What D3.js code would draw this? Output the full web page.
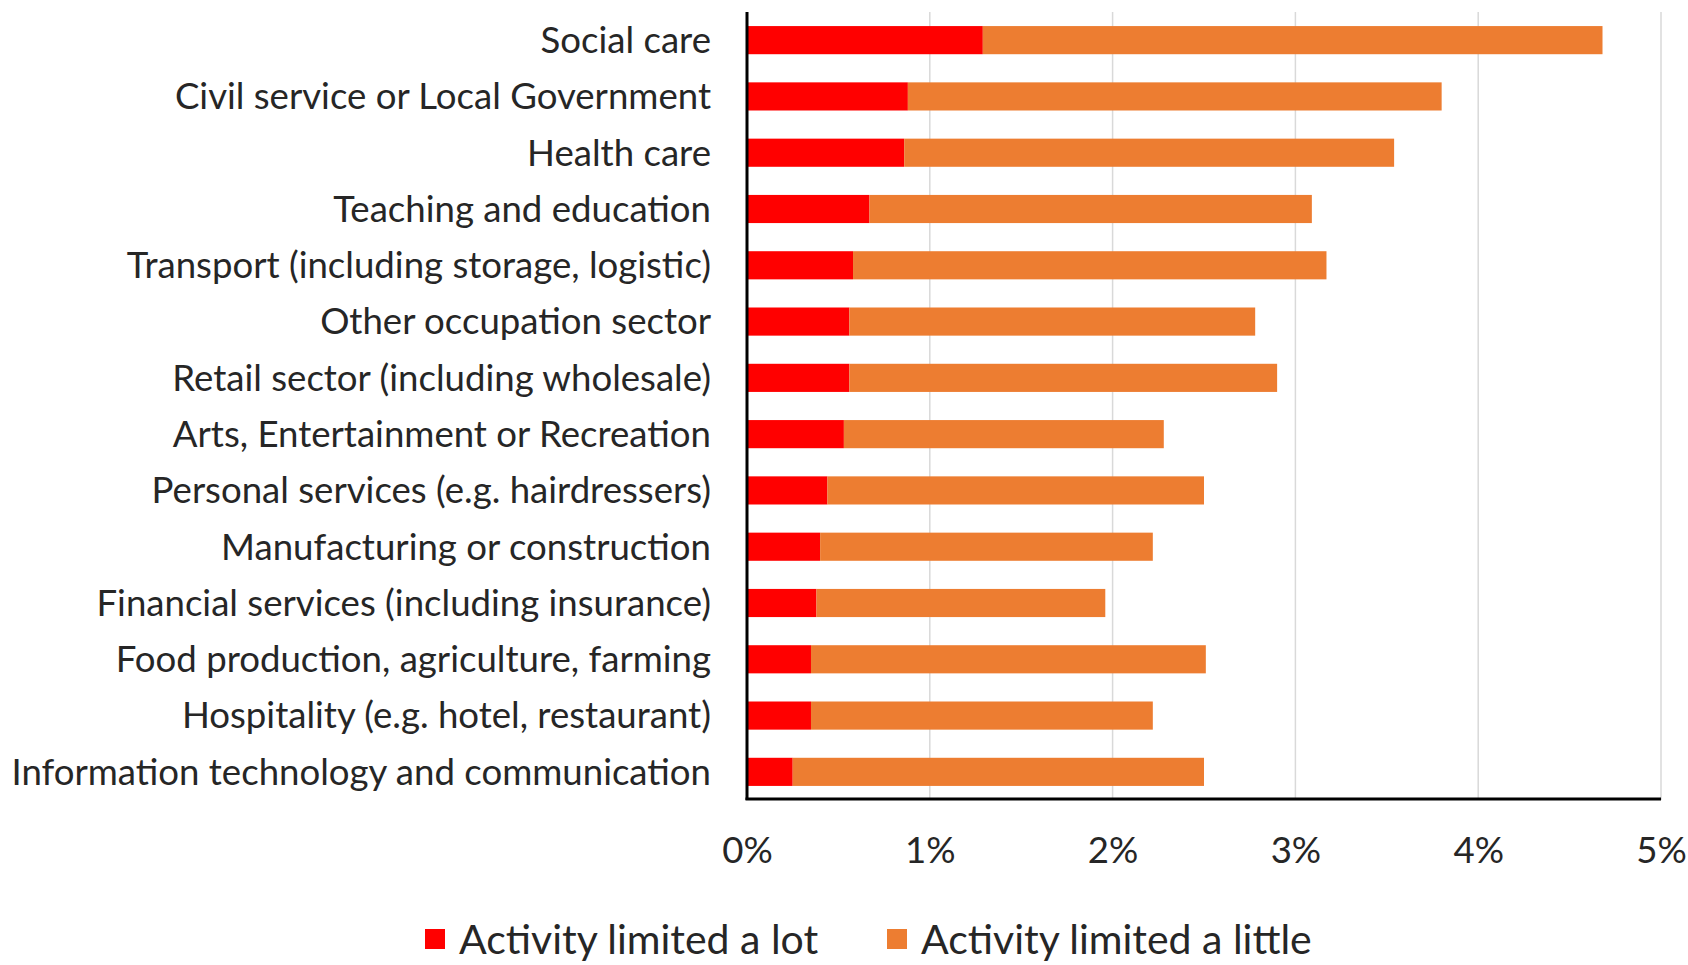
<!DOCTYPE html>
<html>
<head>
<meta charset="utf-8">
<script src="https://cdn.jsdelivr.net/npm/d3@7"></script>
<style>
  body { margin: 0; background: #fff; }
  svg text { font-family: Lato, "Open Sans", sans-serif; fill: #262626; }
</style>
</head>
<body>
<div id="plot"></div>
<script>
// values (percent)
var categories = [
  "Social care",
  "Civil service or Local Government",
  "Health care",
  "Teaching and education",
  "Transport (including storage, logistic)",
  "Other occupation sector",
  "Retail sector (including wholesale)",
  "Arts, Entertainment or Recreation",
  "Personal services (e.g. hairdressers)",
  "Manufacturing or construction",
  "Financial services (including insurance)",
  "Food production, agriculture, farming",
  "Hospitality (e.g. hotel, restaurant)",
  "Information technology and communication"
];
var limitedLot =    [1.29, 0.88, 0.86, 0.67, 0.58, 0.56, 0.56, 0.53, 0.44, 0.40, 0.38, 0.35, 0.35, 0.25];
var limitedLittle = [3.39, 2.92, 2.68, 2.42, 2.59, 2.22, 2.34, 1.75, 2.06, 1.82, 1.58, 2.16, 1.87, 2.25];
var seriesNames = ["Activity limited a lot", "Activity limited a little"];
var tickValues = [0, 1, 2, 3, 4, 5];

var width = 1688;
var height = 965;
var colors = ['#ff0000', '#ed7d31'];

var svg = d3.select("div#plot")
  .append("svg")
  .attr("width", width)
  .attr("height", height);

var x = d3.scaleLinear().domain([0, 5]).range([747, 1661]);
var y = d3.scaleBand().domain(categories).range([12, 800]).paddingInner(0.5).paddingOuter(0.25);

var rows = categories.map(function(c, i){
  return {cat: c, lot: limitedLot[i], little: limitedLittle[i]};
});
var stacked = d3.stack().keys(["lot", "little"])(rows);

// gridlines
svg.append("g")
  .selectAll("line")
  .data(tickValues.slice(1))
  .enter()
  .append("line")
  .attr("x1", d => x(d)).attr("x2", d => x(d))
  .attr("y1", 12).attr("y2", 800)
  .style("stroke", "#d9d9d9")
  .style("stroke-width", 1.5);

// bars
svg.append("g")
  .selectAll("g")
  .data(stacked)
  .enter()
  .append("g")
  .style("fill", (d, i) => colors[i])
  .selectAll("rect")
  .data(d => d)
  .enter()
  .append("rect")
  .attr("x", d => x(d[0]))
  .attr("width", d => x(d[1]) - x(d[0]))
  .attr("y", d => y(d.data.cat))
  .attr("height", y.bandwidth());

// category labels
var labels = svg.append("g")
  .selectAll("text")
  .data(categories)
  .enter()
  .append("text")
  .attr("x", 711)
  .attr("y", d => y(d) + y.bandwidth() / 2)
  .attr("dy", "0.35em")
  .attr("text-anchor", "end")
  .style("font-size", "32px")
  .text(d => d);

// fit the font so the longest label is as wide as in the reference
var widest = d3.max(labels.nodes(), n => n.getComputedTextLength());
var fs = 32 * 700 / widest;
labels.style("font-size", fs + "px");

// x axis
var xAxis = d3.axisBottom(x)
  .tickValues(tickValues)
  .tickSize(0)
  .tickPadding(0)
  .tickFormat(d => d + "%");
var gx = svg.append("g")
  .attr("transform", "translate(0,799)")
  .call(xAxis);
gx.select(".domain").remove();
gx.selectAll("text")
  .attr("y", 51)
  .attr("dy", "0.35em")
  .style("font-size", fs + "px");

// axis lines
svg.append("line")
  .attr("x1", x(0)).attr("x2", x(0))
  .attr("y1", 12).attr("y2", 800)
  .style("stroke", "#000").style("stroke-width", 3);
svg.append("line")
  .attr("x1", x(0) - 1.5).attr("x2", x(5))
  .attr("y1", 799).attr("y2", 799)
  .style("stroke", "#000").style("stroke-width", 3);

// legend
var legendX = [425, 887];
var legend = svg.append("g")
  .selectAll("g")
  .data(seriesNames)
  .enter()
  .append("g")
  .attr("transform", (d, i) => "translate(" + legendX[i] + ",929)");
legend.append("rect")
  .attr("width", 20).attr("height", 20)
  .style("fill", (d, i) => colors[i]);
legend.append("text")
  .attr("x", 34)
  .attr("y", 11)
  .attr("dy", "0.35em")
  .style("font-size", (fs * 1.12) + "px")
  .text(d => d);
</script>
</body>
</html>
